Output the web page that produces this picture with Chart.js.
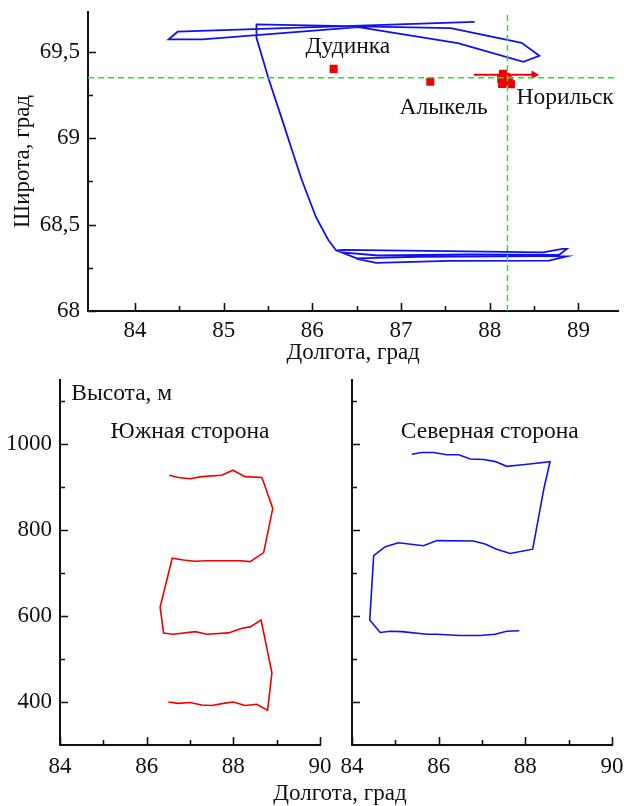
<!DOCTYPE html>
<html>
<head>
<meta charset="utf-8">
<script src="https://cdn.jsdelivr.net/npm/chart.js@4.4.0/dist/chart.umd.min.js"></script>
<style>
  body { margin: 0; background: #fff; }
  #wrap { position: relative; width: 624px; height: 806px; overflow: hidden; }
  canvas { position: absolute; }
  #lonTitle {
    position: absolute; left: 240px; width: 200px; top: 780px;
    text-align: center; font: 23px 'Liberation Serif', serif; color: #111;
  }
</style>
</head>
<body>
<div id="wrap">
  <canvas id="map" width="624" height="372" style="left:0;top:0"></canvas>
  <canvas id="south" width="336" height="434" style="left:0;top:372px"></canvas>
  <canvas id="north" width="288" height="434" style="left:336px;top:372px"></canvas>
  <div id="lonTitle">Долгота, град</div>
</div>
<script>
// --- flight track (map view) ---
const trackLon = [87.83, 84.48, 84.38, 84.76, 86.52, 87.64, 88.38, 88.56, 88.36, 87.56, 85.37, 85.37,
  85.51, 85.66, 85.77, 85.88, 86.04, 86.18, 86.27,
  86.35, 87.53, 88.60, 88.82, 88.87, 88.78, 87.75, 86.74, 86.33, 86.50, 87.19, 88.54, 88.87,
  88.67, 87.53, 86.72, 86.50];
const trackLat = [69.673, 69.616, 69.572, 69.572, 69.643, 69.550, 69.442, 69.477, 69.552, 69.637, 69.658, 69.581,
  69.338, 69.106, 68.932, 68.759, 68.544, 68.411, 68.350,
  68.354, 68.347, 68.339, 68.359, 68.359, 68.324, 68.327, 68.321, 68.339, 68.304, 68.313, 68.318, 68.316,
  68.292, 68.290, 68.278, 68.301];

// settlements and Norilsk sampling points
const siteLon = [86.24, 87.33, 88.15, 88.17, 88.14, 88.22, 88.20, 88.13, 88.24, 88.18, 88.16, 88.21];
const siteLat = [69.401, 69.326, 69.372, 69.338, 69.314, 69.320, 69.343, 69.343, 69.312, 69.355, 69.325, 69.330];
const cityNames = ['Дудинка', 'Алыкель', 'Норильск'];

// reference lines through Norilsk and wind arrow
const refLon = 88.2;
const refLat = 69.35;
const windLon = [87.82, 88.50];
const windLat = [69.367, 69.367];

const mapLonTicks = [84, 85, 86, 87, 88, 89];
const mapLonMinor = [84.5, 85.5, 86.5, 87.5, 88.5];
const mapLatTicks = [68, 68.5, 69, 69.5];
const mapLatMinor = [68.25, 68.75, 69.25];

// --- vertical sections ---
const southLon = [86.52, 86.73, 87.00, 87.27, 87.73, 87.99, 88.27, 88.66, 88.91, 88.70, 88.39, 88.16,
  87.39, 87.12, 86.85, 86.59, 86.31, 86.39, 86.62, 87.12, 87.39, 87.89, 88.20, 88.39, 88.64,
  88.89, 88.79, 88.54, 88.27, 88.00, 87.77, 87.50, 87.27, 87.00, 86.73, 86.50];
const southAlt = [928, 923, 920, 925, 928, 940, 925, 923, 851, 748, 727, 729,
  729, 728, 731, 735, 621, 561, 558, 564, 558, 561, 572, 575, 591,
  468, 381, 395, 392, 400, 397, 392, 393, 399, 397, 400];

const northLon = [85.38, 85.61, 85.88, 86.19, 86.46, 86.73, 87.04, 87.31, 87.57, 87.88, 88.15, 88.57,
  88.43, 88.17, 87.65, 87.34, 87.07, 86.80, 85.96, 85.65, 85.07, 84.77, 84.50,
  84.41, 84.65, 84.88, 85.15, 85.73, 85.96, 86.49, 86.95, 87.30, 87.57, 87.86];
const northAlt = [977, 981, 981, 976, 976, 966, 965, 960, 949, 952, 955, 960,
  898, 756, 746, 756, 768, 775, 776, 764, 771, 762, 741,
  591, 562, 565, 564, 558, 558, 555, 555, 558, 565, 566];

const secLonTicks = [84, 86, 88, 90];
const secLonMinor = [85, 87, 89];
const secAltTicks = [400, 600, 800, 1000];
const secAltMinor = [500, 700, 900, 1100];

const zip = (xs, ys) => xs.map((v, i) => ({ x: v, y: ys[i] }));

Chart.defaults.font.family = "'Liberation Serif', serif";
Chart.defaults.font.size = 23;
Chart.defaults.color = '#111';
Chart.defaults.animation = false;

const INK = '#111';

// tick marks pointing into the plot, majors from the scale, minors from lists
const innerTicks = {
  id: 'innerTicks',
  afterDraw(chart, args, opts) {
    const { ctx, chartArea: a, scales: { x, y } } = chart;
    ctx.save();
    ctx.strokeStyle = INK;
    ctx.lineWidth = 1.6;
    ctx.beginPath();
    const xt = (v, len) => {
      const px = Math.round(x.getPixelForValue(v)) + 0.5;
      ctx.moveTo(px, a.bottom); ctx.lineTo(px, a.bottom - len);
    };
    const yt = (v, len) => {
      const py = Math.round(y.getPixelForValue(v)) + 0.5;
      ctx.moveTo(a.left, py); ctx.lineTo(a.left + len, py);
    };
    x.ticks.forEach(t => xt(t.value, 8));
    y.ticks.forEach(t => yt(t.value, 8));
    (opts.xMinor || []).forEach(v => xt(v, 5));
    (opts.yMinor || []).forEach(v => yt(v, 5));
    ctx.stroke();
    ctx.restore();
  }
};

// free text placed in data coordinates
const textMarks = {
  id: 'textMarks',
  afterDatasetsDraw(chart, args, opts) {
    const { ctx, scales: { x, y } } = chart;
    ctx.save();
    ctx.font = "23.5px 'Liberation Serif', serif";
    ctx.fillStyle = INK;
    ctx.textBaseline = 'middle';
    (opts.items || []).forEach(it => {
      ctx.textAlign = it.align || 'center';
      ctx.fillText(it.text, x.getPixelForValue(it.x), y.getPixelForValue(it.y));
    });
    ctx.restore();
  }
};

const fixTicks = list => scale => { scale.ticks = list.map(v => ({ value: v })); };
const fixWidth = w => scale => { scale.width = w; scale.paddingTop = 0; scale.paddingBottom = 0; };
const fixHeight = h => scale => { scale.height = h; scale.paddingLeft = 0; scale.paddingRight = 0; };
const comma = v => String(v).replace('.', ',');

const axisBase = {
  type: 'linear',
  grid: { display: false, drawTicks: false },
  border: { display: true, color: INK, width: 2 }
};

// ============ map: longitude / latitude ============
new Chart(document.getElementById('map'), {
  type: 'scatter',
  plugins: [innerTicks, textMarks],
  data: {
    datasets: [
      {
        data: [{ x: 83.47, y: refLat }, { x: 89.45, y: refLat }],
        showLine: true, borderColor: '#22e622', borderWidth: 1.5, borderDash: [6, 4], pointRadius: 0
      },
      {
        data: [{ x: refLon, y: 68 }, { x: refLon, y: 69.73 }],
        showLine: true, borderColor: '#22e622', borderWidth: 1.5, borderDash: [6, 4], pointRadius: 0
      },
      {
        data: zip(trackLon, trackLat),
        showLine: true, borderColor: '#1010f0', borderWidth: 1.8, pointRadius: 0, tension: 0
      },
      {
        data: zip(windLon, windLat),
        showLine: true, borderColor: '#f00000', borderWidth: 2,
        pointRadius: [0, 5], pointStyle: 'triangle', rotation: 90,
        pointBackgroundColor: '#f00000', pointBorderWidth: 0
      },
      {
        data: zip(siteLon, siteLat),
        pointStyle: 'rect', pointRadius: 5.7,
        pointBackgroundColor: '#f00000', pointBorderWidth: 0
      }
    ]
  },
  options: {
    responsive: false,
    layout: { padding: { top: 12, right: 2, left: 0, bottom: 0 } },
    plugins: {
      legend: { display: false },
      tooltip: { enabled: false },
      innerTicks: { xMinor: mapLonMinor, yMinor: mapLatMinor },
      textMarks: {
        items: [
          { text: cityNames[0], x: 86.40, y: 69.53 },
          { text: cityNames[1], x: 87.48, y: 69.175 },
          { text: cityNames[2], x: 88.85, y: 69.233 }
        ]
      }
    },
    scales: {
      x: {
        ...axisBase, min: 83.47, max: 89.45,
        afterBuildTicks: fixTicks(mapLonTicks), afterFit: fixHeight(61),
        ticks: { padding: 6, callback: v => String(v) },
        title: { display: true, text: 'Долгота, град', padding: { top: 0, bottom: 5 } }
      },
      y: {
        ...axisBase, min: 68, max: 69.73,
        afterBuildTicks: fixTicks(mapLatTicks), afterFit: fixWidth(88),
        ticks: { padding: 8, callback: comma },
        title: { display: true, text: 'Широта, град', padding: { top: 9, bottom: 0 } }
      }
    }
  }
});

// ============ sections: longitude / altitude ============
function section(id, lon, alt, color, caption, yWidth, padRight, showAlt) {
  const items = [{ text: caption, x: showAlt ? 87.0 : 87.18, y: 1029 }];
  if (showAlt) items.push({ text: 'Высота, м', x: 84.26, y: 1117, align: 'left' });
  return new Chart(document.getElementById(id), {
    type: 'scatter',
    plugins: [innerTicks, textMarks],
    data: {
      datasets: [{
        data: zip(lon, alt),
        showLine: true, borderColor: color, borderWidth: 1.6, pointRadius: 0, tension: 0
      }]
    },
    options: {
      responsive: false,
      layout: { padding: { top: 8, right: padRight, left: 0, bottom: 0 } },
      plugins: {
        legend: { display: false },
        tooltip: { enabled: false },
        innerTicks: { xMinor: secLonMinor, yMinor: secAltMinor },
        textMarks: { items }
      },
      scales: {
        x: {
          ...axisBase, min: 84, max: 90,
          afterBuildTicks: fixTicks(secLonTicks), afterFit: fixHeight(61),
          ticks: { padding: 8, callback: v => String(v) }
        },
        y: {
          ...axisBase, min: 300, max: 1150,
          afterBuildTicks: fixTicks(secAltTicks), afterFit: fixWidth(yWidth),
          ticks: { display: showAlt, padding: 8, callback: v => String(v) }
        }
      }
    }
  });
}

section('south', southLon, southAlt, '#f00000', 'Южная сторона', 60, 16, true);
section('north', northLon, northAlt, '#1010f0', 'Северная сторона', 16, 12, false);
</script>
</body>
</html>
